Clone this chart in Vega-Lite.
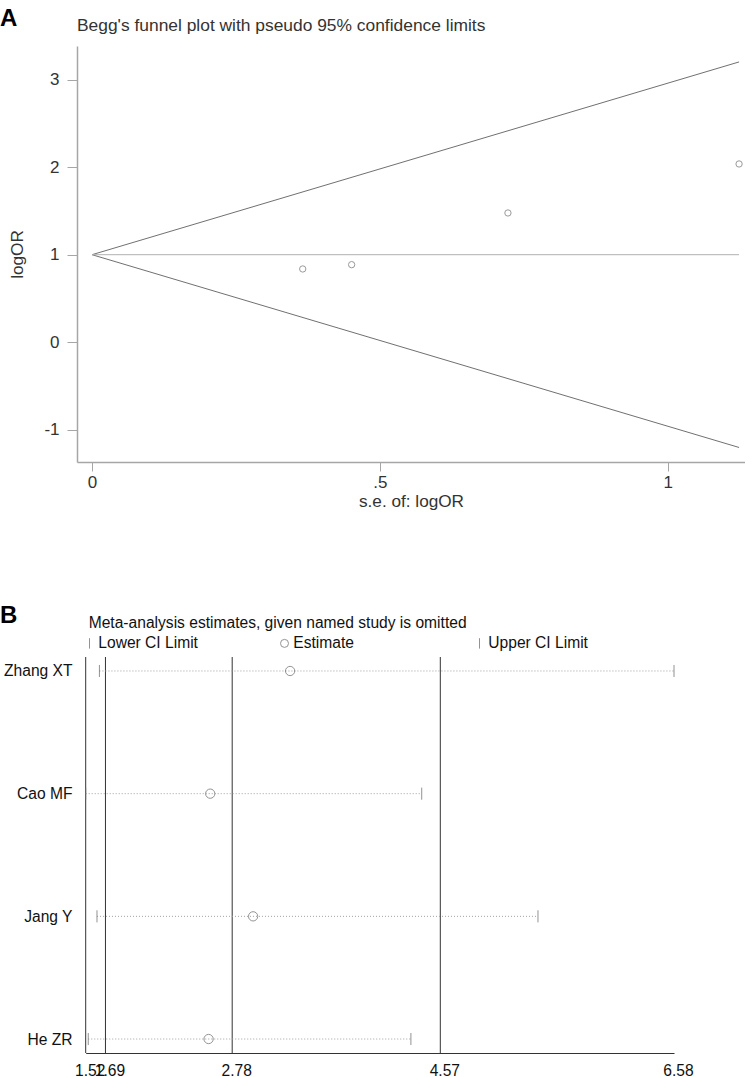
{
  "$schema": "https://vega.github.io/schema/vega-lite/v6.json",
  "padding": {"left": 0, "top": 6, "right": 0, "bottom": 0},
  "background": "white",
  "config": {"font": "Liberation Sans", "view": {"stroke": null}},
  "title": {"text": "A", "anchor": "start", "frame": "bounds", "fontSize": 24, "fontWeight": "bold", "color": "#000", "offset": -14},
  "spacing": 94,
  "resolve": {"legend": {"shape": "independent", "color": "independent"}},
  "datasets": {
    "funnel": [
      {"x0": 0, "y0": 1, "x1": 1.124, "y1": 3.203, "kind": "limit"},
      {"x0": 0, "y0": 1, "x1": 1.124, "y1": -1.203, "kind": "limit"},
      {"x0": 0, "y0": 1, "x1": 1.124, "y1": 1, "kind": "center"}
    ],
    "points": [
      {"se": 0.366, "logor": 0.837},
      {"se": 0.451, "logor": 0.886},
      {"se": 0.7225, "logor": 1.477},
      {"se": 1.124, "logor": 2.037}
    ],
    "vlines": [{"v": 1.52}, {"v": 1.69}, {"v": 2.78}, {"v": 4.57}],
    "loo": [
      {"study": "Zhang XT", "Lower CI Limit": 1.638, "Estimate": 3.278, "Upper CI Limit": 6.58},
      {"study": "Cao MF", "Lower CI Limit": 1.52, "Estimate": 2.591, "Upper CI Limit": 4.41},
      {"study": "Jang Y", "Lower CI Limit": 1.617, "Estimate": 2.96, "Upper CI Limit": 5.41},
      {"study": "He ZR", "Lower CI Limit": 1.542, "Estimate": 2.577, "Upper CI Limit": 4.317}
    ]
  },
  "vconcat": [
    {
      "width": 668,
      "height": 416,
      "title": {"text": "Begg's funnel plot with pseudo 95% confidence limits", "anchor": "start", "frame": "group", "fontSize": 17.4, "fontWeight": "normal", "color": "#333", "offset": 12},
      "layer": [
        {
          "data": {"name": "funnel"},
          "mark": {"type": "rule", "strokeWidth": 1},
          "encoding": {
            "x": {"field": "x0", "type": "quantitative", "scale": {"domain": [-0.0261, 1.1343], "nice": false, "zero": false},
              "axis": {"title": "s.e. of: logOR", "values": [0, 0.5, 1], "labelExpr": "datum.value == 0 ? '0' : (datum.value == 1 ? '1' : '.5')", "grid": false, "domainColor": "#a6a6a6", "domainWidth": 1.5, "tickColor": "#a6a6a6", "tickSize": 9, "labelPadding": 3, "labelFontSize": 17, "labelColor": "#333", "labelFlush": false, "titleFontSize": 17.2, "titleFontWeight": "normal", "titleColor": "#333", "titlePadding": 2}},
            "y": {"field": "y0", "type": "quantitative", "scale": {"domain": [-1.369, 3.385], "nice": false, "zero": false},
              "axis": {"title": "logOR", "values": [-1, 0, 1, 2, 3], "labelExpr": "'' + datum.value", "grid": false, "domainColor": "#a6a6a6", "domainWidth": 1.5, "tickColor": "#a6a6a6", "tickSize": 10, "labelPadding": 8, "labelFontSize": 17, "labelColor": "#333", "labelFlush": false, "titleFontSize": 17.2, "titleFontWeight": "normal", "titleColor": "#333", "titlePadding": 17}},
            "x2": {"field": "x1"},
            "y2": {"field": "y1"},
            "color": {"field": "kind", "type": "nominal", "scale": {"domain": ["limit", "center"], "range": ["#707070", "#b0b0b0"]}, "legend": null}
          }
        },
        {
          "data": {"name": "points"},
          "mark": {"type": "point", "shape": "circle", "filled": false, "size": 40, "color": "#707070", "strokeWidth": 1},
          "encoding": {
            "x": {"field": "se", "type": "quantitative"},
            "y": {"field": "logor", "type": "quantitative"}
          }
        }
      ]
    },
    {
      "width": 597,
      "height": 396,
      "title": {"text": "B", "anchor": "start", "frame": "group", "dx": -77, "fontSize": 24, "fontWeight": "bold", "color": "#000", "offset": -24},
      "layer": [
        {
          "data": {"name": "vlines"},
          "mark": {"type": "rule", "color": "#333", "strokeWidth": 1},
          "encoding": {
            "x": {"field": "v", "type": "quantitative", "scale": {"domain": [1.52, 6.58], "range": [8.7, 597], "nice": false, "zero": false},
              "axis": {"title": null, "values": [1.52, 1.69, 2.78, 4.57, 6.58], "format": ".2f", "grid": false, "ticks": false, "domainColor": "#333", "domainWidth": 1, "labelPadding": 10, "labelOffset": 4, "labelOverlap": false, "labelFlush": false, "labelBound": false, "labelFontSize": 15.6, "labelColor": "#111"}}
          }
        },
        {
          "data": {"name": "loo"},
          "mark": {"type": "rule", "color": "#a0a0a0", "strokeDash": [1, 2], "strokeWidth": 1},
          "encoding": {
            "x": {"field": "Lower CI Limit", "type": "quantitative"},
            "x2": {"field": "Upper CI Limit"},
            "y": {"field": "study", "type": "nominal", "scale": {"type": "point", "domain": ["Zhang XT", "Cao MF", "Jang Y", "He ZR"], "padding": 0.114},
              "axis": {"title": null, "domain": false, "ticks": false, "grid": false, "labelPadding": 5, "labelFontSize": 15.6, "labelColor": "#111"}}
          }
        },
        {
          "data": {"name": "loo"},
          "transform": [{"fold": ["Lower CI Limit", "Estimate", "Upper CI Limit"], "as": ["kind", "value"]}],
          "mark": {"type": "point", "filled": false, "size": 86, "color": "#666", "strokeWidth": 1},
          "encoding": {
            "x": {"field": "value", "type": "quantitative"},
            "y": {"field": "study", "type": "nominal"},
            "shape": {"field": "kind", "type": "nominal",
              "scale": {"domain": ["Lower CI Limit", "Estimate", "Upper CI Limit"], "range": ["M0,-1.3L0,1.3", "circle", "M0,-1.3L0,1.3"]},
              "legend": {"orient": "top", "direction": "horizontal", "columns": 3, "gridAlign": "all", "title": "Meta-analysis estimates, given named study is omitted", "titleLimit": 700, "titleFontSize": 15.6, "titleFontWeight": "normal", "titleColor": "#111", "titlePadding": 4, "labelFontSize": 15.6, "labelColor": "#111", "symbolSize": 64, "symbolStrokeWidth": 1, "symbolOffset": -7, "labelOffset": 1, "columnPadding": 79, "padding": 11.7, "offset": -7}}
          }
        }
      ]
    }
  ]
}
